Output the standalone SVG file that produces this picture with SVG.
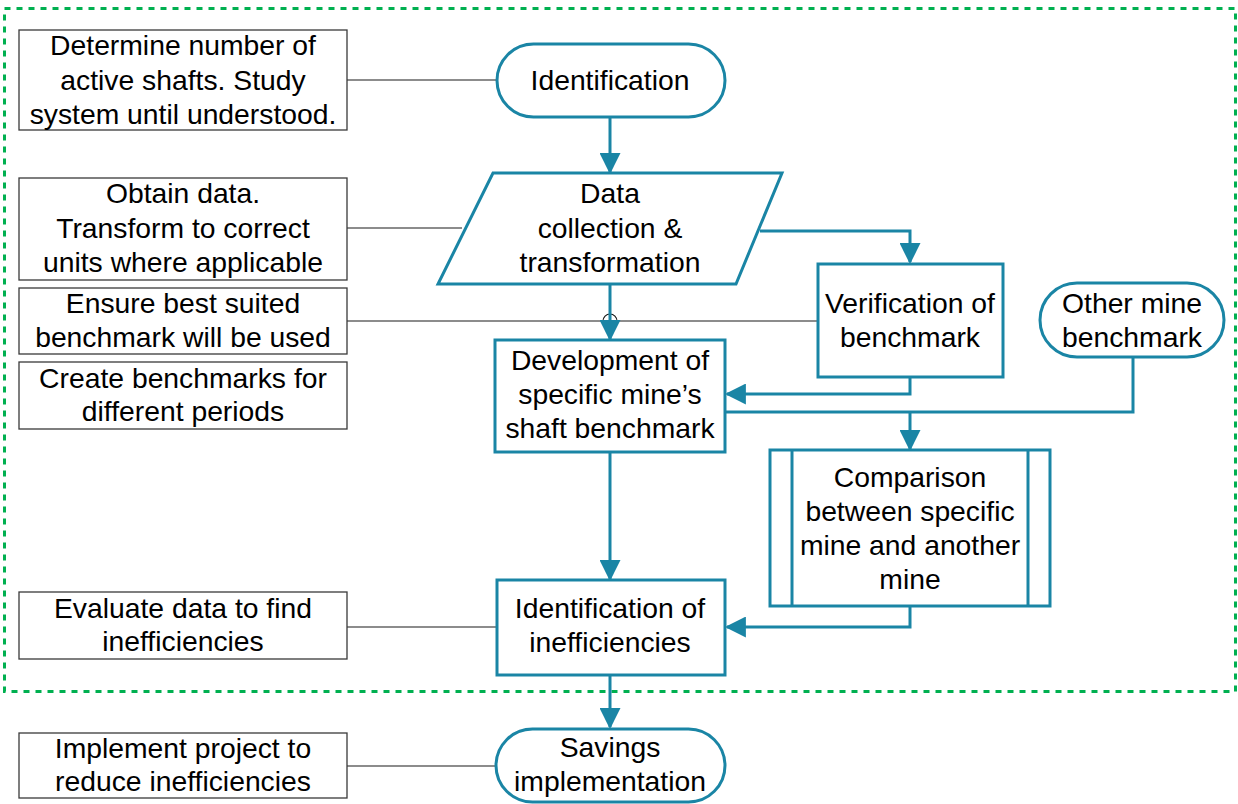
<svg xmlns="http://www.w3.org/2000/svg" width="1238" height="804" viewBox="0 0 1238 804">
  <style>
    text { font-family: "Liberation Sans", Arial, sans-serif; font-size: 28.3px; fill: #000; text-anchor: middle; }
    .note { fill: #fff; stroke: #3a3a3a; stroke-width: 1.3; }
    .main { fill: #fff; stroke: #1a85a5; stroke-width: 3; }
    .flow { fill: none; stroke: #1a85a5; stroke-width: 3; }
    .link { fill: none; stroke: #1a1a1a; stroke-width: 1.2; }
    .scope { fill: none; stroke: #00b050; stroke-width: 3; stroke-dasharray: 6 6; }
  </style>
  <defs>
    <marker id="arrow" viewBox="0 0 10 10" refX="9" refY="5" markerWidth="7" markerHeight="7" markerUnits="strokeWidth" orient="auto">
      <path d="M0,0 L10,5 L0,10 Z" fill="#1a85a5"/>
    </marker>
  </defs>

  <rect width="1238" height="804" fill="#fff"/>

  <!-- scope boundary -->
  <rect class="scope" x="4.5" y="8.5" width="1231" height="683"/>

  <!-- note links -->
  <g id="note-links">
    <line class="link" x1="347" y1="80" x2="497" y2="80"/>
    <line class="link" x1="347" y1="228" x2="462" y2="228"/>
    <path class="link" d="M347,321 H603 A7,7 0 0 1 617,321 H818"/>
    <line class="link" x1="347" y1="627" x2="497" y2="627"/>
    <line class="link" x1="347" y1="766" x2="497" y2="766"/>
  </g>

  <!-- connectors -->
  <g id="connectors">
    <line class="flow" x1="610" y1="117" x2="610" y2="172" marker-end="url(#arrow)"/>
    <polyline class="flow" points="760,231 910,231 910,262" marker-end="url(#arrow)"/>
    <line class="flow" x1="610" y1="284" x2="610" y2="339" marker-end="url(#arrow)"/>
    <polyline class="flow" points="910,377 910,394 727,394" marker-end="url(#arrow)"/>
    <polyline class="flow" points="725,412 1133,412 1133,357"/>
    <line class="flow" x1="910" y1="412" x2="910" y2="449" marker-end="url(#arrow)"/>
    <line class="flow" x1="610" y1="452" x2="610" y2="579" marker-end="url(#arrow)"/>
    <polyline class="flow" points="910,606 910,627 727,627" marker-end="url(#arrow)"/>
    <line class="flow" x1="610" y1="675" x2="610" y2="727" marker-end="url(#arrow)"/>
  </g>

  <!-- notes -->
  <g id="note-identify">
    <rect class="note" x="19" y="30" width="328" height="100"/>
    <text x="183" y="55">Determine number of</text>
    <text x="183" y="90">active shafts. Study</text>
    <text x="183" y="124">system until understood.</text>
  </g>
  <g id="note-data">
    <rect class="note" x="19" y="178" width="328" height="102"/>
    <text x="183" y="203">Obtain data.</text>
    <text x="183" y="238">Transform to correct</text>
    <text x="183" y="272">units where applicable</text>
  </g>
  <g id="note-verify">
    <rect class="note" x="19" y="288" width="328" height="66"/>
    <text x="183" y="313">Ensure best suited</text>
    <text x="183" y="347">benchmark will be used</text>
  </g>
  <g id="note-periods">
    <rect class="note" x="19" y="362" width="328" height="67"/>
    <text x="183" y="388">Create benchmarks for</text>
    <text x="183" y="421">different periods</text>
  </g>
  <g id="note-evaluate">
    <rect class="note" x="19" y="592" width="328" height="67"/>
    <text x="183" y="618">Evaluate data to find</text>
    <text x="183" y="651">inefficiencies</text>
  </g>
  <g id="note-implement">
    <rect class="note" x="19" y="733" width="328" height="65"/>
    <text x="183" y="758">Implement project to</text>
    <text x="183" y="791">reduce inefficiencies</text>
  </g>

  <!-- process nodes -->
  <g id="identification">
    <rect class="main" x="497" y="44" width="228" height="73" rx="36.5"/>
    <text x="610" y="90">Identification</text>
  </g>
  <g id="data-collection">
    <polygon class="main" points="493,173 782,173 736,284 438,284"/>
    <text x="610" y="203">Data</text>
    <text x="610" y="238">collection &amp;</text>
    <text x="610" y="272">transformation</text>
  </g>
  <g id="verification">
    <rect class="main" x="818" y="264" width="185" height="113"/>
    <text x="910" y="313">Verification of</text>
    <text x="910" y="347">benchmark</text>
  </g>
  <g id="other-mine">
    <rect class="main" x="1040" y="283" width="184" height="74" rx="37"/>
    <text x="1132" y="313">Other mine</text>
    <text x="1132" y="347">benchmark</text>
  </g>
  <g id="development">
    <rect class="main" x="495" y="340" width="230" height="112"/>
    <text x="610" y="370">Development of</text>
    <text x="610" y="404">specific mine’s</text>
    <text x="610" y="438">shaft benchmark</text>
  </g>
  <g id="comparison">
    <rect class="main" x="770" y="450" width="280" height="156"/>
    <line class="main" x1="792" y1="450" x2="792" y2="606"/>
    <line class="main" x1="1028" y1="450" x2="1028" y2="606"/>
    <text x="910" y="487">Comparison</text>
    <text x="910" y="521">between specific</text>
    <text x="910" y="555">mine and another</text>
    <text x="910" y="589">mine</text>
  </g>
  <g id="inefficiencies">
    <rect class="main" x="497" y="580" width="228" height="95"/>
    <text x="610" y="618">Identification of</text>
    <text x="610" y="652">inefficiencies</text>
  </g>
  <g id="savings">
    <rect class="main" x="496" y="729" width="229" height="73" rx="36.5"/>
    <text x="610" y="757">Savings</text>
    <text x="610" y="791">implementation</text>
  </g>
</svg>
